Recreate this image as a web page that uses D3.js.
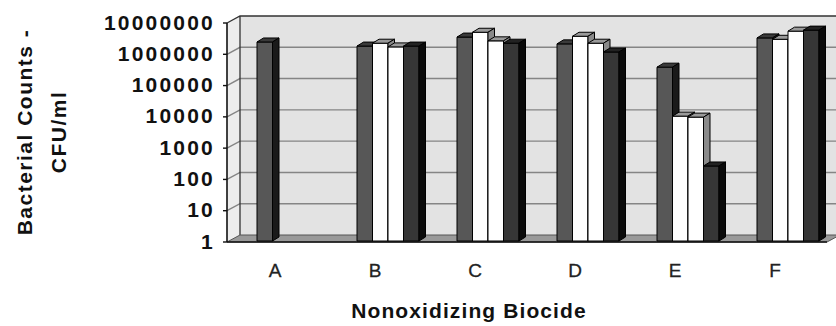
<!DOCTYPE html>
<html>
<head>
<meta charset="utf-8">
<script src="https://cdn.jsdelivr.net/npm/d3@7"></script>
<style>
  body { margin: 0; background: #fff; }
  svg { display: block; font-family: "Liberation Sans", Arial, sans-serif; }
</style>
</head>
<body>
<svg id="chart" width="836" height="326"></svg>
<script>
// ── Data ─────────────────────────────────────────────────────────────
const categories = ['A', 'B', 'C', 'D', 'E', 'F'];
const series1 = [2300000, 1700000, 3300000, 2000000, 360000, 3100000];
const series2 = [null, 2100000, 4700000, 3500000, 9800, 2800000];
const series3 = [null, 1600000, 2500000, 2100000, 9100, 5100000];
const series4 = [null, 1700000, 2100000, 1100000, 250, 5500000];
const yTicks = [1, 10, 100, 1000, 10000, 100000, 1000000, 10000000];
const yTitle = ['Bacterial Counts -', 'CFU/ml'];
const xTitle = 'Nonoxidizing Biocide';

const SERIES = [
  { values: series1, front: '#575757', top: '#3a3a3a', side: '#1a1a1a' },
  { values: series2, front: '#ffffff', top: '#9a9a9a', side: '#8a8a8a' },
  { values: series3, front: '#ffffff', top: '#9a9a9a', side: '#8a8a8a' },
  { values: series4, front: '#363636', top: '#222', side: '#0a0a0a' },
];

// ── Geometry ─────────────────────────────────────────────────────────
const DX = 13, DY = -7;          // wall depth
const BDX = 6.5, BDY = -4;       // bar depth
const BAR_W = 15.5;

const svg = d3.select('#chart');
const x = d3.scaleBand().domain(categories).range([227, 827]);
const y = d3.scaleLog().domain([1, 1e7]).range([242, 23]);
const x0 = 227, x1 = 827, yb = y(1), yt = y(1e7);

const poly = pts => 'M' + pts.map(p => p.join(',')).join('L') + 'Z';

// ── Walls ────────────────────────────────────────────────────────────
// side wall
svg.append('path')
  .attr('d', poly([[x0, yb], [x0, yt], [x0 + DX, yt + DY], [x0 + DX, yb + DY]]))
  .attr('fill', '#ededed');
// back wall
svg.append('path')
  .attr('d', poly([[x0 + DX, yt + DY], [x1 + DX, yt + DY], [x1 + DX, yb + DY], [x0 + DX, yb + DY]]))
  .attr('fill', '#e3e3e3');

// gridlines
const grid = svg.append('g').attr('stroke', '#858585').attr('stroke-width', 1.4).attr('fill', 'none');
yTicks.slice(1, -1).forEach(t => {
  grid.append('path')
    .attr('d', `M${x0},${y(t)}L${x0 + DX},${y(t) + DY}L${x1 + DX},${y(t) + DY}`);
});

// wall edges
svg.append('path')
  .attr('d', `M${x0},${yt}L${x0 + DX},${yt + DY}L${x1 + DX},${yt + DY}M${x0 + DX},${yt + DY}L${x0 + DX},${yb + DY}`)
  .attr('stroke', '#333').attr('stroke-width', 1.3).attr('fill', 'none');

// floor
svg.append('path')
  .attr('d', poly([[x0, yb], [x1, yb], [x1 + DX, yb + DY], [x0 + DX, yb + DY]]))
  .attr('fill', '#999').attr('stroke', '#555').attr('stroke-width', 1);
svg.append('line')
  .attr('x1', x0).attr('x2', x1).attr('y1', yb).attr('y2', yb)
  .attr('stroke', '#111').attr('stroke-width', 1.6);

// front axis + ticks
svg.append('line')
  .attr('x1', x0).attr('x2', x0).attr('y1', yb).attr('y2', yt)
  .attr('stroke', '#111').attr('stroke-width', 1.6);
svg.append('g').selectAll('line').data(yTicks).join('line')
  .attr('x1', x0 - 4).attr('x2', x0).attr('y1', d => y(d)).attr('y2', d => y(d))
  .attr('stroke', '#111').attr('stroke-width', 1.4);

// ── Bars ─────────────────────────────────────────────────────────────
const bars = svg.append('g').attr('stroke', '#000').attr('stroke-width', 1).attr('stroke-linejoin', 'round');
categories.forEach((c, ci) => {
  const gx = x(c) + 30;
  SERIES.forEach((s, si) => {
    const v = s.values[ci];
    if (v == null) return;
    const l = gx + si * BAR_W, r = l + BAR_W;
    const bottom = y(1) - 1, top = y(v) - 1;
    bars.append('path').attr('d', poly([[l, bottom], [l, top], [r, top], [r, bottom]])).attr('fill', s.front);
    bars.append('path').attr('d', poly([[l, top], [l + BDX, top + BDY], [r + BDX, top + BDY], [r, top]])).attr('fill', s.top);
    bars.append('path').attr('d', poly([[r, bottom], [r, top], [r + BDX, top + BDY], [r + BDX, bottom + BDY]])).attr('fill', s.side);
  });
});

// ── Text ─────────────────────────────────────────────────────────────
svg.append('g').selectAll('text').data(yTicks).join('text')
  .attr('x', 215).attr('y', d => y(d) - 1).attr('dy', '0.36em')
  .attr('text-anchor', 'end')
  .attr('font-size', 21).attr('font-weight', 'bold').attr('letter-spacing', 2.2)
  .attr('fill', '#111')
  .text(d => d3.format('d')(d));

svg.append('g').selectAll('text').data(categories).join('text')
  .attr('x', d => x(d) + x.bandwidth() / 2 - 2).attr('y', 277)
  .attr('text-anchor', 'middle')
  .attr('font-size', 19).attr('fill', '#222').attr('stroke', '#222').attr('stroke-width', 0.3)
  .text(d => d);

svg.append('text')
  .attr('x', 469).attr('y', 318)
  .attr('text-anchor', 'middle')
  .attr('font-size', 21).attr('font-weight', 'bold').attr('letter-spacing', 1.1)
  .attr('fill', '#111')
  .text(xTitle);

yTitle.forEach((t, i) => {
  svg.append('text')
    .attr('transform', `translate(${32 + i * 34},132) rotate(-90)`)
    .attr('text-anchor', 'middle')
    .attr('font-size', 21).attr('font-weight', 'bold').attr('letter-spacing', 1.5)
    .attr('fill', '#111')
    .text(t);
});
</script>
</body>
</html>
